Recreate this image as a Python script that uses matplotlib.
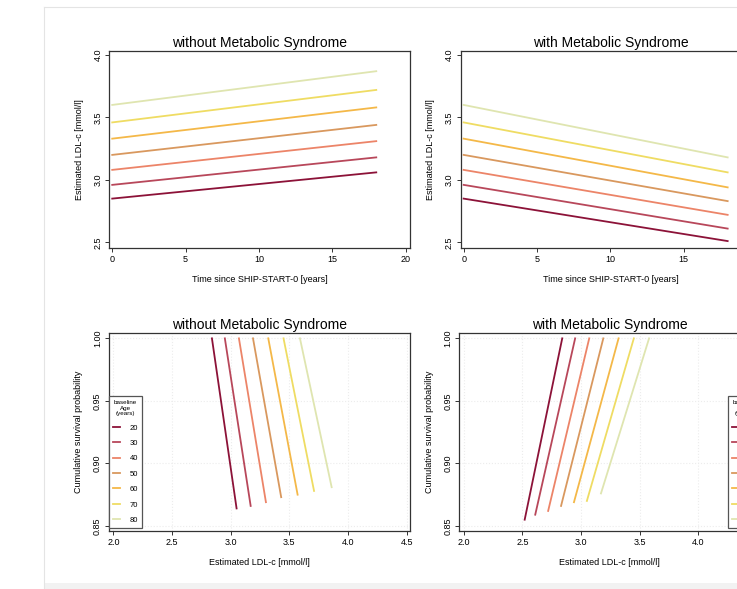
import matplotlib
matplotlib.use('Agg')
import matplotlib.pyplot as plt
from matplotlib.lines import Line2D
from matplotlib.patches import Rectangle

plt.rcParams['font.family'] = ['Liberation Sans', 'DejaVu Sans']

# baseline age groups and their colours
ages = ['20', '30', '40', '50', '60', '70', '80']
colors = ['#8c1238', '#b8475a', '#ec8468', '#d9985e', '#f4b848', '#efdc63', '#dfe5b0']

# LDL-c trajectories over time (years since SHIP-START-0)
time_pts = [0, 18]
ldl_start = [2.85, 2.96, 3.08, 3.20, 3.33, 3.46, 3.60]
ldl_end_nomets = [3.06, 3.18, 3.31, 3.44, 3.58, 3.72, 3.87]
ldl_end_mets = [2.51, 2.61, 2.72, 2.83, 2.94, 3.06, 3.18]

# survival vs LDL-c (start at survival 1.0, end values below)
surv_ldl_top_nomets = [2.84, 2.95, 3.07, 3.19, 3.32, 3.45, 3.59]
surv_ldl_bot_nomets = [3.05, 3.17, 3.30, 3.43, 3.57, 3.71, 3.86]
surv_bot_nomets = [0.864, 0.866, 0.869, 0.873, 0.875, 0.878, 0.881]
surv_ldl_top_mets = [2.84, 2.95, 3.07, 3.19, 3.32, 3.45, 3.58]
surv_ldl_bot_mets = [2.52, 2.61, 2.72, 2.83, 2.94, 3.05, 3.17]
surv_bot_mets = [0.855, 0.859, 0.862, 0.866, 0.869, 0.870, 0.876]

fig = plt.figure(figsize=(7.37, 5.89), dpi=100)

# screenshot frame
fig.add_artist(Line2D([44/737, 44/737], [0, 1-7/589], color='#e4e4e4', lw=0.8))
fig.add_artist(Line2D([44/737, 1], [1-7/589, 1-7/589], color='#e4e4e4', lw=0.8))
fig.add_artist(Rectangle((44/737, 0), 1, 6/589, color='#f2f2f2', lw=0))

W = 0.408
H = 0.3355
ax_tl = fig.add_axes([0.1483, 0.5784, W, H])
ax_tr = fig.add_axes([0.6251, 0.5784, W, H])
ax_bl = fig.add_axes([0.1479, 0.099, W, 0.3361])
ax_br = fig.add_axes([0.6232, 0.099, W, 0.3361])

fs_tick = 6.5
fs_lab = 6.5

def style(ax, title):
    ax.set_title(title, fontsize=10, pad=3)
    ax.tick_params(labelsize=fs_tick, length=3, width=0.7, pad=2, color='#333333')
    for lab in ax.get_yticklabels():
        lab.set_rotation(90)
        lab.set_va('center')
    for s in ax.spines.values():
        s.set_linewidth(0.9)
        s.set_color('#333333')

for ax, ends, title in [(ax_tl, ldl_end_nomets, 'without Metabolic Syndrome'),
                        (ax_tr, ldl_end_mets, 'with Metabolic Syndrome')]:
    for i in range(len(ages)):
        ax.plot(time_pts, [ldl_start[i], ends[i]], color=colors[i], lw=1.3)
    ax.set_xlim(-0.2, 20.3)
    ax.set_ylim(2.452, 4.034)
    ax.set_xticks([0, 5, 10, 15, 20])
    ax.set_yticks([2.5, 3.0, 3.5, 4.0])
    ax.set_yticklabels(['2.5', '3.0', '3.5', '4.0'])
    ax.set_xlabel('Time since SHIP-START-0 [years]', fontsize=fs_lab, labelpad=8)
    ax.set_ylabel('Estimated LDL-c [mmol/l]', fontsize=fs_lab, labelpad=7)
    style(ax, title)

for ax, tops, bots, sbot, title, loc, anchor in [
        (ax_bl, surv_ldl_top_nomets, surv_ldl_bot_nomets, surv_bot_nomets,
         'without Metabolic Syndrome', 'lower left', (0.0, 0.015)),
        (ax_br, surv_ldl_top_mets, surv_ldl_bot_mets, surv_bot_mets,
         'with Metabolic Syndrome', 'lower right', (1.003, 0.015))]:
    ax.grid(True, color='#ececec', linestyle=':', lw=0.8)
    ax.set_axisbelow(True)
    handles = []
    for i in range(len(ages)):
        h, = ax.plot([tops[i], bots[i]], [1.0, sbot[i]], color=colors[i], lw=1.3, label=ages[i])
        handles.append(h)
    ax.set_xlim(1.963, 4.525)
    ax.set_ylim(0.8462, 1.0045)
    ax.set_xticks([2.0, 2.5, 3.0, 3.5, 4.0, 4.5])
    ax.set_xticklabels(['2.0', '2.5', '3.0', '3.5', '4.0', '4.5'])
    ax.set_yticks([0.85, 0.90, 0.95, 1.00])
    ax.set_yticklabels(['0.85', '0.90', '0.95', '1.00'])
    ax.set_xlabel('Estimated LDL-c [mmol/l]', fontsize=fs_lab, labelpad=8)
    ax.set_ylabel('Cumulative survival probability', fontsize=fs_lab, labelpad=7)
    style(ax, title)
    leg = ax.legend(handles=handles, loc=loc, bbox_to_anchor=anchor,
                    title='baseline\nAge\n(years)', fontsize=5.5, title_fontsize=4.5,
                    handlelength=1.0, handletextpad=1.2, labelspacing=1.05,
                    borderaxespad=0, borderpad=0.5, fancybox=False, framealpha=1,
                    alignment='center')
    leg.get_title().set_multialignment('center')
    leg.get_frame().set_edgecolor('#555555')
    leg.get_frame().set_linewidth(0.9)

fig.savefig('out.png', dpi=100)
